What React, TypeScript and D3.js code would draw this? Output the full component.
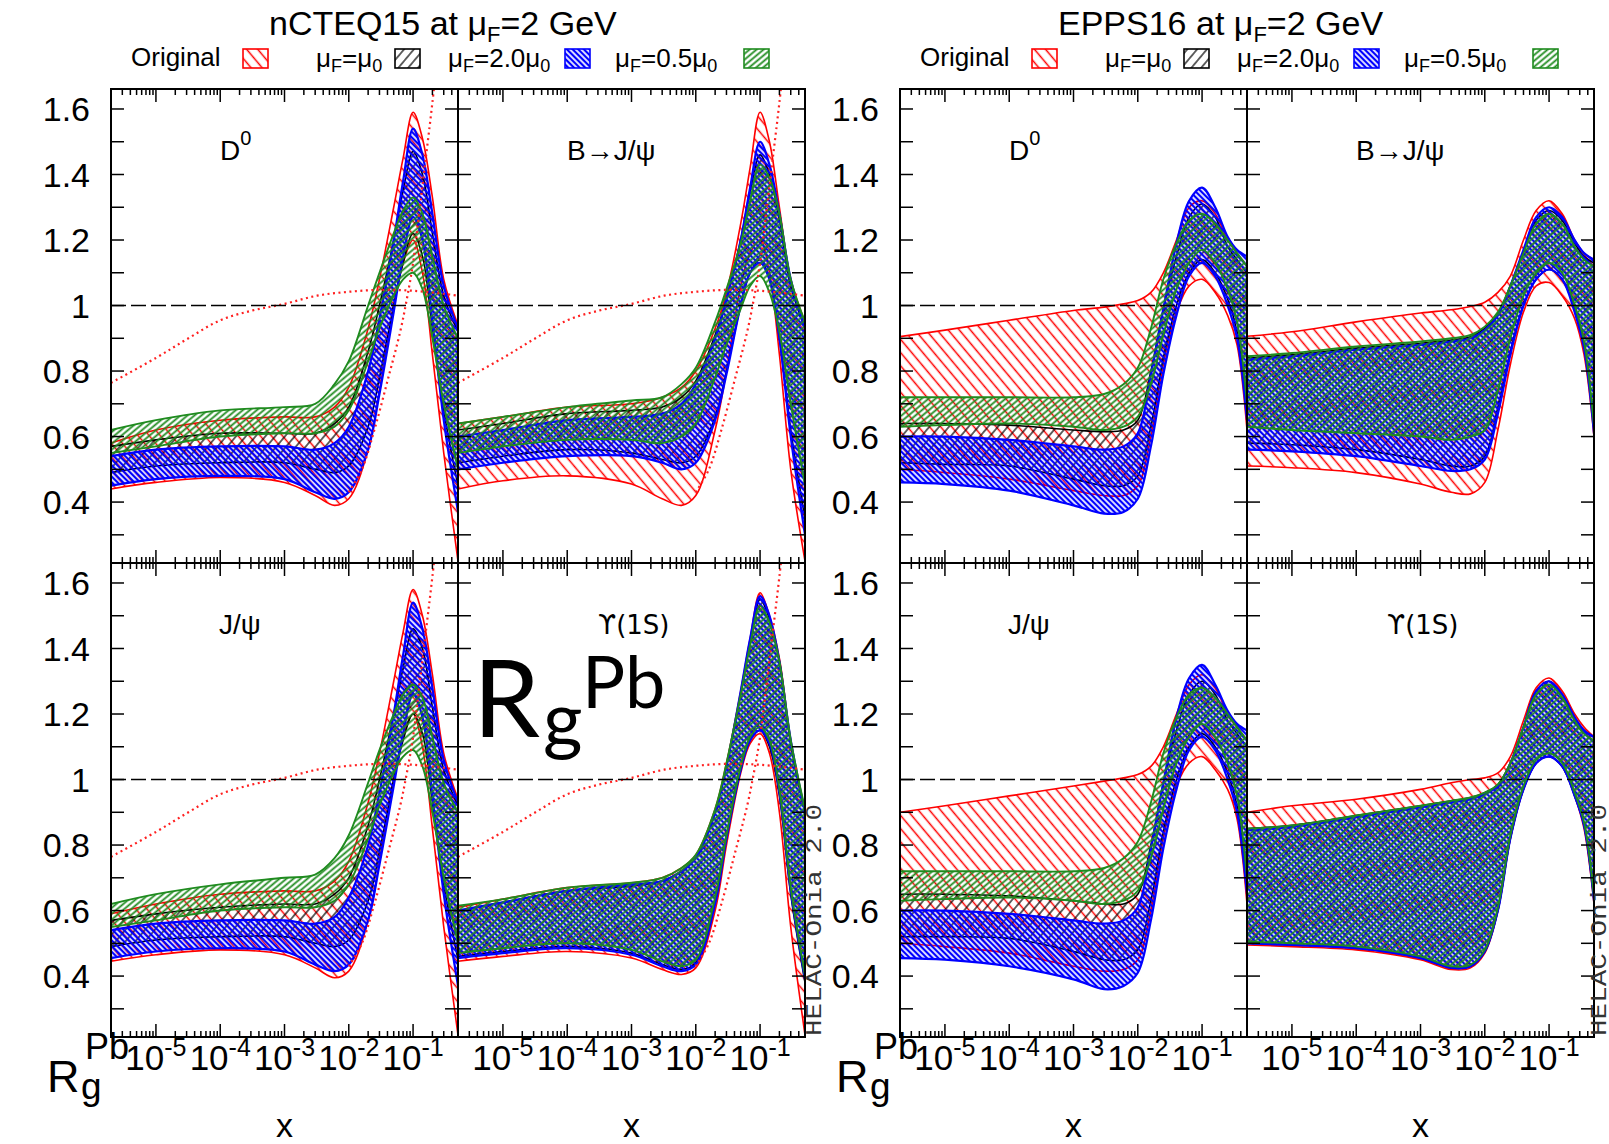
import * as d3 from 'd3';

// x grids (values of x, log spaced by hand)
const X_NCTEQ = [2e-6, 1e-5, 1e-4, 1e-3, 3e-3, 6e-3, 1e-2, 2e-2, 3e-2, 5e-2, 7e-2, 0.1, 0.14, 0.2, 0.3, 0.5];
const X_EPPS = [2e-6, 1e-5, 1e-4, 1e-3, 3e-3, 6e-3, 1e-2, 1.6e-2, 2.5e-2, 4e-2, 6.3e-2, 0.1, 0.16, 0.25, 0.35, 0.5];

// nCTEQ15 - D0
const nD0_orig_lo = [0.44, 0.46, 0.475, 0.46, 0.42, 0.39, 0.41, 0.56, 0.74, 1.0, 1.13, 1.2, 1.1, 0.85, 0.55, 0.22];
const nD0_orig_hi = [0.58, 0.62, 0.65, 0.66, 0.66, 0.69, 0.75, 0.93, 1.08, 1.3, 1.45, 1.59, 1.51, 1.33, 1.08, 0.94];
const nD0_mu0_lo = [0.49, 0.51, 0.52, 0.52, 0.5, 0.49, 0.51, 0.63, 0.78, 1.0, 1.13, 1.22, 1.15, 0.93, 0.68, 0.45];
const nD0_mu0_hi = [0.57, 0.59, 0.61, 0.61, 0.61, 0.64, 0.69, 0.86, 1.0, 1.2, 1.35, 1.47, 1.4, 1.22, 1.03, 0.92];
const nD0_mu2_lo = [0.45, 0.47, 0.48, 0.47, 0.43, 0.41, 0.43, 0.56, 0.73, 0.98, 1.15, 1.27, 1.2, 0.95, 0.65, 0.37];
const nD0_mu2_hi = [0.54, 0.56, 0.57, 0.57, 0.56, 0.58, 0.63, 0.8, 0.96, 1.2, 1.38, 1.54, 1.46, 1.28, 1.06, 0.93];
const nD0_mu05_lo = [0.55, 0.57, 0.6, 0.61, 0.61, 0.63, 0.68, 0.83, 0.93, 1.03, 1.08, 1.1, 1.05, 0.9, 0.7, 0.5];
const nD0_mu05_hi = [0.62, 0.65, 0.68, 0.69, 0.7, 0.76, 0.83, 1.0, 1.1, 1.22, 1.29, 1.33, 1.28, 1.15, 1.0, 0.9];

// nCTEQ15 - B -> J/psi
const nB_orig_lo = [0.44, 0.465, 0.48, 0.455, 0.41, 0.39, 0.42, 0.62, 0.8, 1.06, 1.16, 1.2, 1.1, 0.85, 0.5, 0.22];
const nB_orig_hi = [0.64, 0.66, 0.69, 0.7, 0.72, 0.75, 0.8, 0.93, 1.04, 1.25, 1.42, 1.59, 1.5, 1.3, 1.08, 0.95];
const nB_mu0_lo = [0.52, 0.54, 0.56, 0.55, 0.53, 0.52, 0.54, 0.66, 0.8, 1.0, 1.1, 1.14, 1.08, 0.9, 0.62, 0.35];
const nB_mu0_hi = [0.62, 0.64, 0.67, 0.68, 0.69, 0.72, 0.77, 0.91, 1.02, 1.2, 1.35, 1.46, 1.4, 1.26, 1.06, 0.93];
const nB_mu2_lo = [0.5, 0.52, 0.54, 0.54, 0.52, 0.5, 0.52, 0.65, 0.79, 1.0, 1.1, 1.13, 1.08, 0.9, 0.6, 0.3];
const nB_mu2_hi = [0.6, 0.62, 0.65, 0.66, 0.67, 0.7, 0.76, 0.9, 1.02, 1.2, 1.36, 1.5, 1.43, 1.28, 1.08, 0.93];
const nB_mu05_lo = [0.55, 0.57, 0.59, 0.59, 0.58, 0.6, 0.64, 0.78, 0.88, 0.99, 1.06, 1.09, 1.04, 0.92, 0.7, 0.45];
const nB_mu05_hi = [0.64, 0.66, 0.69, 0.71, 0.72, 0.76, 0.81, 0.95, 1.05, 1.19, 1.32, 1.43, 1.39, 1.28, 1.08, 0.95];

// nCTEQ15 - J/psi
const nJ_orig_lo = [0.445, 0.465, 0.48, 0.465, 0.425, 0.395, 0.415, 0.57, 0.75, 1.0, 1.13, 1.2, 1.1, 0.85, 0.55, 0.22];
const nJ_orig_hi = [0.59, 0.62, 0.65, 0.66, 0.66, 0.69, 0.75, 0.93, 1.08, 1.3, 1.45, 1.58, 1.5, 1.32, 1.08, 0.94];
const nJ_mu0_lo = [0.49, 0.51, 0.52, 0.52, 0.5, 0.49, 0.51, 0.63, 0.78, 1.0, 1.12, 1.2, 1.14, 0.93, 0.68, 0.45];
const nJ_mu0_hi = [0.57, 0.59, 0.61, 0.62, 0.62, 0.65, 0.7, 0.86, 1.0, 1.2, 1.34, 1.46, 1.4, 1.22, 1.03, 0.92];
const nJ_mu2_lo = [0.455, 0.475, 0.485, 0.475, 0.435, 0.415, 0.435, 0.57, 0.74, 0.98, 1.14, 1.26, 1.19, 0.95, 0.65, 0.37];
const nJ_mu2_hi = [0.54, 0.56, 0.57, 0.57, 0.56, 0.58, 0.64, 0.8, 0.96, 1.2, 1.38, 1.54, 1.46, 1.28, 1.06, 0.93];
const nJ_mu05_lo = [0.55, 0.57, 0.6, 0.61, 0.61, 0.63, 0.68, 0.82, 0.92, 1.02, 1.07, 1.09, 1.04, 0.9, 0.7, 0.5];
const nJ_mu05_hi = [0.62, 0.65, 0.68, 0.7, 0.71, 0.76, 0.83, 0.99, 1.09, 1.2, 1.26, 1.29, 1.25, 1.13, 0.99, 0.9];

// nCTEQ15 - Upsilon(1S)
const nU_orig_lo = [0.445, 0.46, 0.475, 0.455, 0.42, 0.405, 0.425, 0.6, 0.8, 1.02, 1.11, 1.14, 1.08, 0.9, 0.55, 0.22];
const nU_orig_hi = [0.61, 0.635, 0.67, 0.685, 0.7, 0.73, 0.77, 0.91, 1.05, 1.27, 1.43, 1.57, 1.5, 1.37, 1.12, 0.9];
const nU_mu0_lo = [0.46, 0.475, 0.49, 0.47, 0.435, 0.42, 0.44, 0.63, 0.82, 1.03, 1.12, 1.15, 1.1, 0.95, 0.65, 0.38];
const nU_mu0_hi = [0.6, 0.625, 0.66, 0.675, 0.69, 0.72, 0.76, 0.9, 1.04, 1.26, 1.42, 1.55, 1.49, 1.36, 1.11, 0.9];
const nU_mu2_lo = [0.455, 0.47, 0.485, 0.465, 0.43, 0.415, 0.435, 0.62, 0.82, 1.03, 1.12, 1.15, 1.11, 0.96, 0.66, 0.39];
const nU_mu2_hi = [0.6, 0.625, 0.66, 0.68, 0.69, 0.72, 0.76, 0.9, 1.04, 1.27, 1.43, 1.56, 1.5, 1.36, 1.12, 0.9];
const nU_mu05_lo = [0.47, 0.485, 0.5, 0.48, 0.445, 0.43, 0.45, 0.64, 0.83, 1.04, 1.13, 1.16, 1.12, 0.97, 0.67, 0.4];
const nU_mu05_hi = [0.615, 0.635, 0.67, 0.685, 0.7, 0.73, 0.77, 0.91, 1.05, 1.26, 1.41, 1.53, 1.48, 1.36, 1.12, 0.91];

// EPPS16 - D0
const eD0_orig_lo = [0.5, 0.49, 0.47, 0.435, 0.42, 0.42, 0.45, 0.6, 0.82, 0.98, 1.06, 1.08, 1.04, 0.97, 0.88, 0.62];
const eD0_orig_hi = [0.905, 0.925, 0.955, 0.985, 0.995, 1.005, 1.015, 1.04, 1.1, 1.2, 1.3, 1.32, 1.28, 1.2, 1.16, 1.12];
const eD0_mu0_lo = [0.52, 0.515, 0.51, 0.47, 0.45, 0.45, 0.48, 0.63, 0.84, 1.0, 1.1, 1.14, 1.1, 1.02, 0.92, 0.66];
const eD0_mu0_hi = [0.64, 0.64, 0.635, 0.62, 0.615, 0.62, 0.65, 0.8, 0.99, 1.15, 1.27, 1.31, 1.27, 1.18, 1.14, 1.1];
const eD0_mu2_lo = [0.46, 0.455, 0.435, 0.39, 0.365, 0.37, 0.41, 0.57, 0.79, 0.97, 1.09, 1.13, 1.09, 1.0, 0.9, 0.65];
const eD0_mu2_hi = [0.6, 0.6, 0.59, 0.57, 0.56, 0.57, 0.61, 0.79, 0.99, 1.19, 1.32, 1.36, 1.3, 1.21, 1.17, 1.15];
const eD0_mu05_lo = [0.63, 0.635, 0.64, 0.63, 0.62, 0.63, 0.66, 0.76, 0.91, 1.05, 1.13, 1.17, 1.13, 1.05, 0.95, 0.7];
const eD0_mu05_hi = [0.72, 0.72, 0.72, 0.72, 0.73, 0.76, 0.81, 0.93, 1.08, 1.19, 1.26, 1.28, 1.25, 1.2, 1.16, 1.12];

// EPPS16 - B -> J/psi
const eB_orig_lo = [0.51, 0.505, 0.49, 0.455, 0.43, 0.425, 0.46, 0.62, 0.82, 0.98, 1.06, 1.07, 1.03, 0.96, 0.85, 0.6];
const eB_orig_hi = [0.906, 0.92, 0.95, 0.977, 0.987, 0.997, 1.01, 1.04, 1.09, 1.2, 1.29, 1.32, 1.28, 1.2, 1.16, 1.14];
const eB_mu0_lo = [0.58, 0.575, 0.56, 0.53, 0.51, 0.51, 0.54, 0.69, 0.86, 1.0, 1.08, 1.11, 1.08, 0.99, 0.88, 0.62];
const eB_mu0_hi = [0.84, 0.85, 0.87, 0.885, 0.895, 0.905, 0.93, 0.975, 1.06, 1.165, 1.26, 1.29, 1.26, 1.19, 1.15, 1.13];
const eB_mu2_lo = [0.56, 0.555, 0.54, 0.51, 0.495, 0.5, 0.53, 0.67, 0.85, 1.0, 1.08, 1.11, 1.08, 0.98, 0.87, 0.61];
const eB_mu2_hi = [0.835, 0.845, 0.865, 0.88, 0.89, 0.9, 0.925, 0.97, 1.06, 1.17, 1.27, 1.3, 1.27, 1.2, 1.16, 1.14];
const eB_mu05_lo = [0.63, 0.62, 0.61, 0.6, 0.59, 0.6, 0.62, 0.74, 0.9, 1.03, 1.1, 1.13, 1.1, 1.0, 0.89, 0.63];
const eB_mu05_hi = [0.845, 0.855, 0.875, 0.89, 0.9, 0.91, 0.935, 0.98, 1.06, 1.16, 1.25, 1.28, 1.25, 1.18, 1.14, 1.12];

// EPPS16 - J/psi
const eJ_orig_lo = [0.5, 0.49, 0.47, 0.43, 0.415, 0.42, 0.45, 0.6, 0.82, 0.98, 1.05, 1.07, 1.03, 0.97, 0.88, 0.62];
const eJ_orig_hi = [0.9, 0.92, 0.95, 0.98, 0.995, 1.005, 1.015, 1.04, 1.1, 1.2, 1.29, 1.32, 1.28, 1.2, 1.16, 1.12];
const eJ_mu0_lo = [0.52, 0.52, 0.515, 0.475, 0.45, 0.45, 0.48, 0.63, 0.84, 1.0, 1.1, 1.14, 1.1, 1.02, 0.92, 0.66];
const eJ_mu0_hi = [0.65, 0.65, 0.645, 0.63, 0.62, 0.62, 0.65, 0.8, 0.99, 1.15, 1.26, 1.3, 1.26, 1.18, 1.14, 1.1];
const eJ_mu2_lo = [0.455, 0.45, 0.43, 0.39, 0.36, 0.37, 0.41, 0.57, 0.79, 0.97, 1.09, 1.13, 1.09, 1.0, 0.9, 0.65];
const eJ_mu2_hi = [0.6, 0.6, 0.59, 0.57, 0.56, 0.57, 0.61, 0.79, 0.99, 1.19, 1.31, 1.35, 1.29, 1.21, 1.17, 1.15];
const eJ_mu05_lo = [0.63, 0.635, 0.64, 0.63, 0.62, 0.63, 0.66, 0.76, 0.91, 1.05, 1.13, 1.17, 1.13, 1.05, 0.95, 0.7];
const eJ_mu05_hi = [0.72, 0.72, 0.72, 0.72, 0.73, 0.76, 0.81, 0.93, 1.08, 1.19, 1.26, 1.28, 1.25, 1.2, 1.16, 1.12];

// EPPS16 - Upsilon(1S)
const eU_orig_lo = [0.495, 0.49, 0.48, 0.45, 0.42, 0.425, 0.47, 0.6, 0.82, 0.97, 1.05, 1.07, 1.04, 0.95, 0.85, 0.62];
const eU_orig_hi = [0.9, 0.92, 0.94, 0.97, 0.99, 1.0, 1.005, 1.02, 1.07, 1.18, 1.28, 1.31, 1.27, 1.2, 1.16, 1.13];
const eU_mu0_lo = [0.5, 0.495, 0.485, 0.455, 0.425, 0.43, 0.475, 0.6, 0.82, 0.97, 1.05, 1.07, 1.04, 0.95, 0.86, 0.63];
const eU_mu0_hi = [0.85, 0.86, 0.89, 0.92, 0.935, 0.945, 0.96, 0.985, 1.05, 1.16, 1.27, 1.3, 1.26, 1.19, 1.15, 1.13];
const eU_mu2_lo = [0.5, 0.495, 0.485, 0.455, 0.425, 0.43, 0.475, 0.6, 0.82, 0.97, 1.05, 1.07, 1.04, 0.95, 0.86, 0.63];
const eU_mu2_hi = [0.845, 0.855, 0.885, 0.915, 0.93, 0.94, 0.955, 0.98, 1.05, 1.16, 1.27, 1.3, 1.26, 1.19, 1.15, 1.13];
const eU_mu05_lo = [0.505, 0.5, 0.49, 0.46, 0.43, 0.435, 0.48, 0.61, 0.83, 0.98, 1.06, 1.08, 1.05, 0.96, 0.87, 0.64];
const eU_mu05_hi = [0.85, 0.86, 0.89, 0.92, 0.935, 0.945, 0.96, 0.985, 1.05, 1.16, 1.26, 1.29, 1.25, 1.18, 1.14, 1.12];

// red dotted reference curves in the nCTEQ15 panels
const DOT_A_X = [2e-6, 1e-5, 3.2e-5, 1e-4, 3.2e-4, 1e-3, 3.2e-3, 1e-2, 3.2e-2, 0.1, 0.32, 0.5];
const DOT_A_Y = [0.764, 0.84, 0.9, 0.955, 0.985, 1.005, 1.03, 1.042, 1.048, 1.045, 1.035, 1.03];
const DOT_B_X = [0.01, 0.016, 0.025, 0.04, 0.063, 0.08, 0.1, 0.126, 0.16, 0.2, 0.25];
const DOT_B_Y = [0.43, 0.5, 0.62, 0.77, 0.92, 1.02, 1.13, 1.29, 1.46, 1.62, 1.8];

const Y_TICK_LABELS = [0.4, 0.6, 0.8, 1, 1.2, 1.4, 1.6];
const X_MAJOR = [1e-5, 1e-4, 1e-3, 1e-2, 1e-1];
const X_EXPONENTS = ['-5', '-4', '-3', '-2', '-1'];
const TITLES = ['nCTEQ15', 'EPPS16'];

const W = 347;
const H = 474;
const GROUP_X = [111, 900];
const ROW_Y = [89, 563];
const X_DOMAIN = [2e-6, 0.5];
const Y_DOMAIN = [0.214, 1.661];
const FONT = '"Liberation Sans", Arial, Helvetica, sans-serif';

const COLOR = { orig: '#ff0000', mu0: '#000000', mu2: '#0000ff', mu05: '#1f8b1f' };

const band = (key, lo, hi) => ({ key, lo, hi });
const set = (o, m0, m2, m05) => [band('orig', ...o), band('mu0', ...m0), band('mu2', ...m2), band('mu05', ...m05)];

const PANELS = [
  { id: 'p1', g: 0, row: 0, col: 0, xs: X_NCTEQ, dotted: true, label: 'D0', lx: 109,
    bands: set([nD0_orig_lo, nD0_orig_hi], [nD0_mu0_lo, nD0_mu0_hi], [nD0_mu2_lo, nD0_mu2_hi], [nD0_mu05_lo, nD0_mu05_hi]) },
  { id: 'p2', g: 0, row: 0, col: 1, xs: X_NCTEQ, dotted: true, label: 'B', lx: 109,
    bands: set([nB_orig_lo, nB_orig_hi], [nB_mu0_lo, nB_mu0_hi], [nB_mu2_lo, nB_mu2_hi], [nB_mu05_lo, nB_mu05_hi]) },
  { id: 'p3', g: 0, row: 1, col: 0, xs: X_NCTEQ, dotted: true, label: 'J', lx: 108,
    bands: set([nJ_orig_lo, nJ_orig_hi], [nJ_mu0_lo, nJ_mu0_hi], [nJ_mu2_lo, nJ_mu2_hi], [nJ_mu05_lo, nJ_mu05_hi]) },
  { id: 'p4', g: 0, row: 1, col: 1, xs: X_NCTEQ, dotted: true, label: 'U', lx: 140,
    bands: set([nU_orig_lo, nU_orig_hi], [nU_mu0_lo, nU_mu0_hi], [nU_mu2_lo, nU_mu2_hi], [nU_mu05_lo, nU_mu05_hi]) },
  { id: 'p5', g: 1, row: 0, col: 0, xs: X_EPPS, dotted: false, label: 'D0', lx: 109,
    bands: set([eD0_orig_lo, eD0_orig_hi], [eD0_mu0_lo, eD0_mu0_hi], [eD0_mu2_lo, eD0_mu2_hi], [eD0_mu05_lo, eD0_mu05_hi]) },
  { id: 'p6', g: 1, row: 0, col: 1, xs: X_EPPS, dotted: false, label: 'B', lx: 109,
    bands: set([eB_orig_lo, eB_orig_hi], [eB_mu0_lo, eB_mu0_hi], [eB_mu2_lo, eB_mu2_hi], [eB_mu05_lo, eB_mu05_hi]) },
  { id: 'p7', g: 1, row: 1, col: 0, xs: X_EPPS, dotted: false, label: 'J', lx: 108,
    bands: set([eJ_orig_lo, eJ_orig_hi], [eJ_mu0_lo, eJ_mu0_hi], [eJ_mu2_lo, eJ_mu2_hi], [eJ_mu05_lo, eJ_mu05_hi]) },
  { id: 'p8', g: 1, row: 1, col: 1, xs: X_EPPS, dotted: false, label: 'U', lx: 140,
    bands: set([eU_orig_lo, eU_orig_hi], [eU_mu0_lo, eU_mu0_hi], [eU_mu2_lo, eU_mu2_hi], [eU_mu05_lo, eU_mu05_hi]) },
];

const minorTicks: number[] = [];
for (let e = -6; e <= -1; e++) {
  for (let k = 2; k <= 9; k++) {
    const v = k * Math.pow(10, e);
    if (v > X_DOMAIN[0] * 1.001 && v < X_DOMAIN[1] * 0.999) minorTicks.push(v);
  }
}
const yTicks = d3.range(3, 17).map(i => i / 10);

function PanelLabel({ kind, x, y }) {
  const s = { fontFamily: FONT, fontSize: 28, fill: '#000' };
  if (kind === 'D0') return <text x={x} y={y} style={s}>D<tspan dy={-15} fontSize={20}>0</tspan></text>;
  if (kind === 'B') return <text x={x} y={y} style={s}>B→J/ψ</text>;
  if (kind === 'J') return <text x={x} y={y} style={s}>J/ψ</text>;
  return <text x={x} y={y} style={{ ...s, fontFamily: '"DejaVu Sans", ' + FONT, fontSize: 26 }}>ϒ(1S)</text>;
}

function Panel({ p }) {
  const left = GROUP_X[p.g] + p.col * W;
  const top = ROW_Y[p.row];
  const x = d3.scaleLog().domain(X_DOMAIN).range([left, left + W]);
  const y = d3.scaleLinear().domain(Y_DOMAIN).range([top + H, top]);
  const curve = d3.curveCatmullRom.alpha(0.5);
  const xs = p.xs;
  const line = d3.line<number>().curve(curve).x((_, i) => x(xs[i])).y(v => y(v));

  const dotA = d3.line<number>().curve(curve).x((_, i) => x(DOT_A_X[i])).y(v => y(v))(DOT_A_Y);
  const dotB = d3.line<number>().curve(curve).x((_, i) => x(DOT_B_X[i])).y(v => y(v))(DOT_B_Y);

  return (
    <g>
      <clipPath id={`clip-${p.id}`}>
        <rect x={left} y={top} width={W} height={H} />
      </clipPath>
      <g clipPath={`url(#clip-${p.id})`}>
        {p.bands.map(b => {
          const a = d3.area<number>().curve(curve)
            .x((_, i) => x(xs[i]))
            .y0((_, i) => y(b.lo[i]))
            .y1((_, i) => y(b.hi[i]))(b.lo);
          const sw = b.key === 'mu2' ? 2.2 : b.key === 'mu05' ? 1.9 : 1.6;
          return (
            <g key={b.key}>
              <path d={a} fill={`url(#hatch-${b.key})`} stroke="none" />
              <path d={line(b.lo)} fill="none" stroke={COLOR[b.key]} strokeWidth={sw} />
              <path d={line(b.hi)} fill="none" stroke={COLOR[b.key]} strokeWidth={sw} />
            </g>
          );
        })}
        {p.dotted && (
          <g fill="none" stroke="#ff2020" strokeWidth={2.2} strokeDasharray="2 3.5">
            <path d={dotA} />
            <path d={dotB} />
          </g>
        )}
        <line x1={left} x2={left + W} y1={y(1)} y2={y(1)} stroke="#000" strokeWidth={1.6} strokeDasharray="15 5" />
      </g>
      <g stroke="#000" strokeWidth={1.5}>
        {X_MAJOR.map(v => (
          <g key={v}>
            <line x1={x(v)} x2={x(v)} y1={top} y2={top + 13} />
            <line x1={x(v)} x2={x(v)} y1={top + H} y2={top + H - 13} />
          </g>
        ))}
        {minorTicks.map(v => (
          <g key={v}>
            <line x1={x(v)} x2={x(v)} y1={top} y2={top + 6} />
            <line x1={x(v)} x2={x(v)} y1={top + H} y2={top + H - 6} />
          </g>
        ))}
        {yTicks.map(v => (
          <g key={v}>
            <line x1={left} x2={left + 13} y1={y(v)} y2={y(v)} />
            <line x1={left + W} x2={left + W - 13} y1={y(v)} y2={y(v)} />
          </g>
        ))}
      </g>
      <rect x={left} y={top} width={W} height={H} fill="none" stroke="#000" strokeWidth={2} />
      <PanelLabel kind={p.label} x={left + p.lx} y={top + 71} />
      {p.col === 0 && Y_TICK_LABELS.map(v => (
        <text key={v} x={left - 21} y={y(v)} dy="0.36em" textAnchor="end"
          style={{ fontFamily: FONT, fontSize: 34 }}>{String(v)}</text>
      ))}
      {p.row === 1 && X_MAJOR.map((v, i) => (
        <text key={v} x={x(v)} y={1070} textAnchor="middle" style={{ fontFamily: FONT, fontSize: 35 }}>
          10<tspan dy={-14} fontSize={25}>{X_EXPONENTS[i]}</tspan>
        </text>
      ))}
      {p.row === 1 && (
        <text x={left + W / 2} y={1137} textAnchor="middle" style={{ fontFamily: FONT, fontSize: 34 }}>x</text>
      )}
    </g>
  );
}

function Legend({ gx, title }) {
  const s = { fontFamily: FONT, fontSize: 26 };
  const box = (bx, key) => (
    <rect x={bx + gx} y={49} width={25} height={19} fill={`url(#hatch-${key})`} stroke={COLOR[key]} strokeWidth={1.6} />
  );
  return (
    <g>
      <text x={269 + gx} y={35} style={{ fontFamily: FONT, fontSize: 34 }}>
        {title} at μ<tspan dy={7} fontSize={22}>F</tspan><tspan dy={-7}>=2 GeV</tspan>
      </text>
      <text x={131 + gx} y={66} style={s}>Original</text>
      {box(243, 'orig')}
      <text x={316 + gx} y={67} style={s}>μ<tspan dy={5} fontSize={18}>F</tspan><tspan dy={-5}>=μ</tspan><tspan dy={5} fontSize={18}>0</tspan></text>
      {box(395, 'mu0')}
      <text x={448 + gx} y={67} style={s}>μ<tspan dy={5} fontSize={18}>F</tspan><tspan dy={-5}>=2.0μ</tspan><tspan dy={5} fontSize={18}>0</tspan></text>
      {box(565, 'mu2')}
      <text x={615 + gx} y={67} style={s}>μ<tspan dy={5} fontSize={18}>F</tspan><tspan dy={-5}>=0.5μ</tspan><tspan dy={5} fontSize={18}>0</tspan></text>
      {box(744, 'mu05')}
    </g>
  );
}

function RLabel({ gx }) {
  return (
    <g style={{ fontFamily: FONT }}>
      <text x={47 + gx} y={1092} fontSize={45}>R</text>
      <text x={81 + gx} y={1099} fontSize={37}>g</text>
      <text x={85 + gx} y={1059} fontSize={36}>Pb</text>
    </g>
  );
}

function Hatch({ id, color, size, angle, width }) {
  return (
    <pattern id={id} patternUnits="userSpaceOnUse" width={size} height={size} patternTransform={`rotate(${angle})`}>
      <line x1={size / 2} y1={0} x2={size / 2} y2={size} stroke={color} strokeWidth={width} />
    </pattern>
  );
}

export default function App() {
  return (
    <svg width={1609} height={1144} style={{ position: 'absolute', left: 0, top: 0, background: '#fff' }}>
      <defs>
        <Hatch id="hatch-orig" color={COLOR.orig} size={8.5} angle={-40} width={1.5} />
        <Hatch id="hatch-mu0" color={COLOR.mu0} size={7.5} angle={40} width={1.2} />
        <Hatch id="hatch-mu2" color={COLOR.mu2} size={4} angle={-45} width={2.3} />
        <Hatch id="hatch-mu05" color={COLOR.mu05} size={4.5} angle={50} width={1.8} />
      </defs>
      <rect x={0} y={0} width={1609} height={1144} fill="#fff" />
      {PANELS.map(p => <Panel key={p.id} p={p} />)}
      <Legend gx={0} title={TITLES[0]} />
      <Legend gx={789} title={TITLES[1]} />
      <RLabel gx={0} />
      <RLabel gx={789} />
      {[821, 1606].map(tx => (
        <text key={tx} transform={`translate(${tx},1036) rotate(-90)`} textLength={232} lengthAdjust="spacingAndGlyphs"
          style={{ fontFamily: '"Liberation Mono", "DejaVu Sans Mono", monospace', fontSize: 22, fill: '#333' }}>
          HELAC-Onia 2.0
        </text>
      ))}
      <g style={{ fontFamily: 'Lato, "Open Sans", sans-serif', fill: '#000' }}>
        <text x={473} y={737} fontSize={107}>R</text>
        <text x={543} y={746} fontSize={76}>g</text>
        <text x={582} y={708} fontSize={72}>Pb</text>
      </g>
    </svg>
  );
}
